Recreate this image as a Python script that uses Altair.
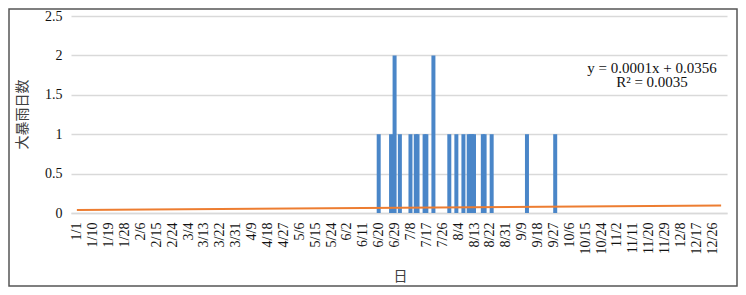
import json
import datetime as dt
import altair as alt
import pandas as pd

# ---- data ----
year = 2020  # leap year: 366 days (2/24 + 9 days = 3/4)
event_dates = ["6/20", "6/27", "6/29", "7/2", "7/8", "7/11", "7/12", "7/16", "7/17",
               "7/21", "7/30", "8/3", "8/7", "8/10", "8/11", "8/12", "8/13", "8/18",
               "8/19", "8/23", "9/12", "9/28"]
event_values = [1, 1, 2, 1, 1, 1, 1, 1, 1,
                2, 1, 1, 1, 1, 1, 1, 1, 1,
                1, 1, 1, 1]
tick_labels = ["1/1", "1/10", "1/19", "1/28", "2/6", "2/15", "2/24", "3/4", "3/13",
               "3/22", "3/31", "4/9", "4/18", "4/27", "5/6", "5/15", "5/24", "6/2",
               "6/11", "6/20", "6/29", "7/8", "7/17", "7/26", "8/4", "8/13", "8/22",
               "8/31", "9/9", "9/18", "9/27", "10/6", "10/15", "10/24", "11/2",
               "11/11", "11/20", "11/29", "12/8", "12/17", "12/26"]
y_ticks = [0, 0.5, 1, 1.5, 2, 2.5]
equation_lines = ["y = 0.0001x + 0.0356", "R² = 0.0035"]

# ---- build the daily table (day number 1..366) ----
start = dt.date(year, 1, 1)
n_days = (dt.date(year + 1, 1, 1) - start).days
label_of_day = {}
for i in range(n_days):
    d = start + dt.timedelta(days=i)
    label_of_day[f"{d.month}/{d.day}"] = i + 1
values = [0] * n_days
for lab, v in zip(event_dates, event_values):
    values[label_of_day[lab] - 1] = v
df = pd.DataFrame({"day": list(range(1, n_days + 1)), "value": values})
tick_days = [label_of_day[t] for t in tick_labels]

SERIF = "Liberation Serif"
CJK = "Noto Sans CJK JP"

label_expr = json.dumps(tick_labels) + "[round((datum.value - 1) / 9)]"

x_scale = alt.Scale(domain=[0.5, n_days + 0.5], nice=False, zero=False)
y_scale = alt.Scale(domain=[0, 2.5], nice=False)

x_axis = alt.Axis(values=tick_days, labelExpr=label_expr, labelAngle=-90,
                  labelFont=SERIF, labelFontSize=14, labelColor="#111111",
                  labelPadding=9, labelOverlap=False, labelBound=False,
                  ticks=False, grid=False,
                  domainColor="#d9d9d9", domainWidth=1.3,
                  title="日", titleFont=CJK, titleFontSize=14, titleFontWeight="normal",
                  titleColor="#404040", titleX=329, titleY=63,
                  titleAlign="center", titleBaseline="middle")
y_axis = alt.Axis(values=y_ticks, format="~g", labelFont=SERIF, labelFontSize=14,
                  labelColor="#111111", labelPadding=9, ticks=False, domain=False,
                  gridColor="#d9d9d9", gridWidth=1.3,
                  title="大暴雨日数", titleFont=CJK, titleFontSize=14,
                  titleFontWeight="normal", titleColor="#404040",
                  titleAngle=-90, titleX=-49, titleY=98, titleAlign="center",
                  titleBaseline="middle")

base = alt.Chart(df)

bars = base.transform_filter("datum.value > 0").mark_bar(
    size=4, color="#4a86c8"
).encode(
    x=alt.X("day:Q", scale=x_scale, axis=x_axis),
    y=alt.Y("value:Q", scale=y_scale, axis=y_axis),
)

trend = base.transform_regression(
    "day", "value", method="linear", extent=[1, n_days]
).mark_line(color="#ed7d31", strokeWidth=2).encode(
    x=alt.X("day:Q", scale=x_scale, axis=x_axis),
    y=alt.Y("value:Q", scale=y_scale, axis=y_axis),
)

eq_df = pd.DataFrame({"text": equation_lines, "row": [0, 1]})
eq_layers = []
for r, ypix in [(0, 52), (1, 66)]:
    eq_layers.append(
        alt.Chart(eq_df).transform_filter(f"datum.row == {r}").mark_text(
            font=SERIF, fontSize=15, color="#111111", align="center", baseline="middle"
        ).encode(x=alt.value(581), y=alt.value(ypix), text="text:N")
    )

frame = alt.Chart(alt.Data(values=[{"f": 1}])).mark_rect(
    fill="transparent", stroke="#555555", strokeWidth=1.5, clip=False
).encode(
    x=alt.value(-62), x2=alt.value(666), y=alt.value(-7), y2=alt.value(270)
)

chart = alt.layer(bars, trend, *eq_layers, frame).properties(
    width=656, height=197,
    autosize=alt.AutoSizeParams(type="none"),
    padding={"left": 63, "top": 8, "right": 11, "bottom": 74},
    background="white",
).configure_view(stroke=None).configure_axisX(labelOverlap=False)

chart.save("out.html", embed_options={"renderer": "svg", "actions": False})
